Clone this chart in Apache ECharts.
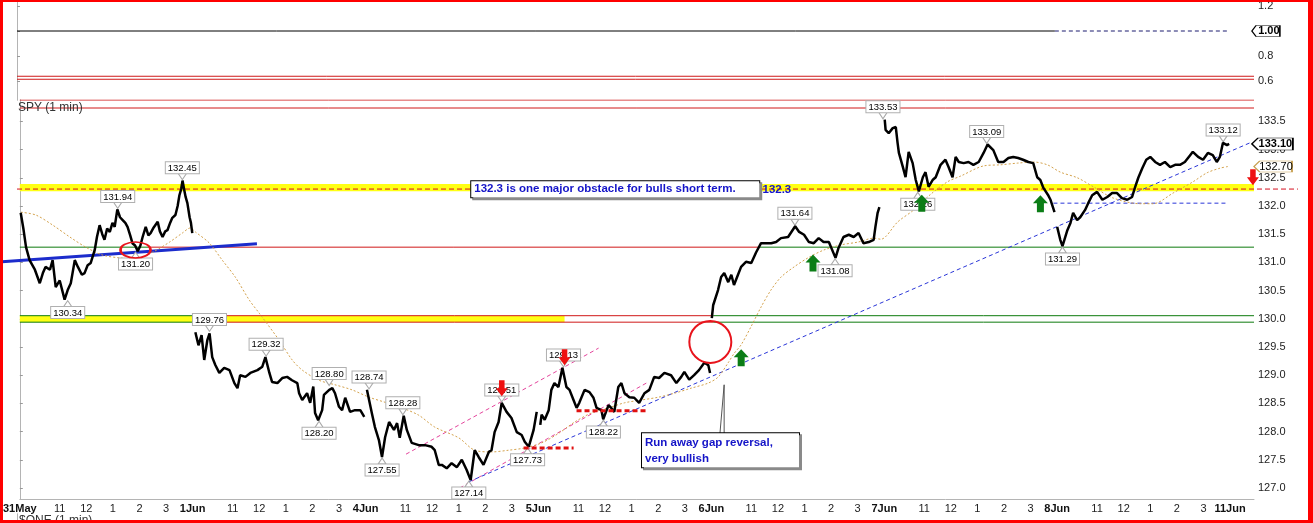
<!DOCTYPE html>
<html><head><meta charset="utf-8">
<script src="https://cdn.jsdelivr.net/npm/echarts@6/dist/echarts.min.js"></script>
<style>
html,body{margin:0;padding:0;background:#fff;overflow:hidden;}
#c{position:absolute;left:0;top:0;width:1313px;height:523px;}
#frame{position:absolute;left:0;top:0;width:1313px;height:523px;box-sizing:border-box;border-style:solid;border-color:#f00;border-width:2px 5px 3px 3px;pointer-events:none;}
</style></head><body>
<div id="c"></div><div id="frame"></div>
<script>
// ---------- DATA ----------
const SESSION = 6.5; // trading hours per day (9:30-16:00)
const dayLabels = ['31May','1Jun','4Jun','5Jun','6Jun','7Jun','8Jun','11Jun'];
const hourLabels = ['11','12','1','2','3'];
const hourOffsets = [1.5,2.5,3.5,4.5,5.5];
const priceTicks = [127,127.5,128,128.5,129,129.5,130,130.5,131,131.5,132,132.5,133,133.5];
const upperTicks = [0.6,0.8,1.2];

// SPY 1-min price readings: [minute of session, price]
const may31 = [[2,131.88],[8,131.6],[14,131.27],[22,131.04],[34,130.87],[45,130.63],[52,130.81],[58,130.92],[68,130.87],[74,131.04],[81,130.56],[90,130.68],[101,130.34],[108,130.51],[115,130.63],[124,131.04],[131,130.92],[140,130.78],[146,130.81],[153,130.95],[160,130.99],[169,131.22],[174,131.45],[180,131.66],[186,131.5],[191,131.40],[197,131.60],[203,131.54],[209,131.70],[214,131.63],[220,131.94],[226,131.80],[232,131.75],[238,131.70],[243,131.63],[249,131.48],[254,131.34],[260,131.30],[266,131.20],[272,131.30],[277,131.45],[284,131.63],[290,131.48],[295,131.52],[302,131.62],[311,131.72],[316,131.55],[322,131.45],[328,131.55],[333,131.57],[339,131.70],[344,131.79],[351,131.84],[356,132.00],[360,132.19],[364,132.30],[367,132.45],[371,132.28],[374,132.16],[378,132.05],[383,131.80],[386,131.70],[389,131.52]];
const jun1 = [[6,129.76],[13,129.53],[20,129.71],[26,129.27],[33,129.62],[38,129.74],[44,129.32],[51,129.18],[60,129.04],[71,129.13],[83,129.09],[94,128.86],[101,128.77],[107,129.00],[119,128.97],[130,129.04],[146,129.09],[157,129.15],[164,129.32],[173,129.04],[179,128.88],[191,128.86],[202,128.95],[213,128.97],[224,128.91],[236,128.86],[240,128.68],[247,128.56],[258,128.68],[265,128.51],[272,128.80],[276,128.33],[283,128.20],[292,128.38],[296,128.65],[308,128.74],[315,128.77],[321,128.68],[330,128.44],[337,128.38],[344,128.60],[355,128.35],[366,128.38],[378,128.38],[387,128.26]];
const jun4 = [[3,128.74],[14,128.33],[21,128.08],[30,127.85],[37,127.55],[44,127.90],[53,128.17],[64,128.03],[71,128.15],[77,127.89],[86,128.28],[93,128.03],[104,127.80],[120,127.76],[134,127.76],[149,127.73],[156,127.67],[165,127.41],[172,127.41],[183,127.35],[194,127.44],[206,127.37],[217,127.50],[228,127.32],[237,127.14],[246,127.67],[255,127.55],[266,127.41],[278,127.64],[284,127.67],[291,127.99],[300,128.17],[307,128.51],[318,128.35],[329,128.24],[341,127.99],[352,127.94],[359,127.82],[368,127.73],[379,128.03],[386,128.35]];
const jun5 = [[4,128.12],[7,128.30],[14,128.21],[23,128.38],[29,128.74],[36,128.86],[45,128.79],[54,129.13],[63,128.79],[70,128.74],[79,128.56],[86,128.42],[92,128.51],[104,128.74],[115,128.70],[124,128.60],[131,128.42],[142,128.38],[146,128.22],[158,128.47],[164,128.42],[171,128.35],[180,128.79],[187,128.86],[194,128.68],[205,128.61],[216,128.60],[227,128.51],[239,128.68],[250,128.74],[261,128.97],[272,128.95],[284,129.04],[299,129.00],[311,128.86],[322,128.97],[329,129.06],[340,128.92],[351,129.00],[362,129.09],[374,129.22],[383,129.18],[387,129.04]];
const jun6 = [[1,130.01],[4,130.24],[15,130.51],[22,130.74],[29,130.81],[38,130.65],[45,130.78],[51,130.60],[60,130.78],[67,130.92],[78,131.01],[90,130.99],[101,131.18],[112,131.34],[123,131.34],[135,131.34],[146,131.36],[157,131.43],[173,131.45],[189,131.64],[198,131.54],[209,131.49],[220,131.36],[231,131.34],[242,131.43],[253,131.36],[265,131.36],[280,131.08],[287,131.26],[298,131.45],[310,131.49],[321,131.45],[332,131.52],[343,131.34],[355,131.36],[366,131.40],[370,131.63],[375,131.88],[379,131.98]];
const jun7 = [[1,133.53],[3,133.35],[10,133.29],[19,133.38],[26,133.40],[30,133.12],[33,132.94],[42,132.69],[48,132.51],[55,132.96],[64,132.76],[71,132.46],[78,132.26],[87,132.51],[93,132.60],[100,132.34],[109,132.46],[116,132.51],[127,132.73],[138,132.82],[145,132.69],[154,132.51],[161,132.87],[168,132.78],[179,132.76],[190,132.78],[201,132.73],[213,132.78],[224,132.94],[233,133.09],[246,132.99],[257,132.78],[269,132.78],[280,132.85],[291,132.87],[302,132.85],[313,132.82],[325,132.78],[336,132.76],[345,132.51],[352,132.46],[359,132.32],[369,132.20],[375,132.11],[384,131.89]];
const jun8 = [[0,131.63],[7,131.40],[12,131.29],[23,131.57],[30,131.70],[36,131.88],[45,131.75],[52,131.80],[63,131.93],[70,132.05],[79,132.19],[90,132.25],[102,132.11],[113,132.16],[124,132.23],[135,132.23],[146,132.14],[158,132.11],[169,132.16],[176,132.34],[183,132.50],[192,132.67],[201,132.82],[210,132.87],[221,132.78],[232,132.73],[243,132.78],[255,132.69],[266,132.73],[277,132.73],[288,132.78],[300,132.90],[306,132.96],[318,132.87],[329,132.82],[340,132.94],[351,132.90],[360,132.78],[367,132.87],[374,133.12],[383,133.08],[388,133.10]];
const priceDays = [may31, jun1, jun4, jun5, jun6, jun7, jun8];

// moving average (orange dotted): trading hours since 31May open, value
const maHours = [0.04,0.60,1.24,1.88,2.48,3.11,3.75,4.35,4.99,5.63,6.11,6.41,6.60,7.13,7.61,8.10,8.63,9.00,9.75,10.24,10.62,11.25,11.85,12.49,13.13,13.73,14.37,15.00,15.60,16.50,17.10,17.74,18.38,18.98,19.62,20.26,20.86,21.49,22.13,22.73,23.37,24.01,24.61,25.24,25.88,26.26,26.63,26.86,27.12,27.49,27.87,28.24,28.62,29.11,29.63,30.23,30.87,31.51,32.11,32.37,33.01,33.61,34.25,34.88,35.37,36.23,36.87,37.51,38.11,38.63,39.12,39.76,40.36,41.11,42.12,42.61,43.36,44.11,44.64,45.12,45.42];
const maValues = [131.89,131.84,131.66,131.45,131.27,131.13,131.08,131.06,131.18,131.36,131.52,131.61,131.54,131.34,131.04,130.74,130.33,130.10,129.62,129.27,129.09,128.91,128.83,128.74,128.61,128.52,128.42,128.29,128.08,127.89,127.67,127.64,127.67,127.71,127.80,127.97,128.17,128.33,128.42,128.51,128.56,128.61,128.68,128.77,128.86,128.97,129.22,129.39,129.54,129.86,130.21,130.51,130.74,130.92,131.08,131.22,131.31,131.36,131.43,131.41,131.72,131.93,132.21,132.43,132.53,132.71,132.73,132.76,132.78,132.73,132.60,132.50,132.34,132.14,132.04,132.04,132.23,132.43,132.59,132.67,132.70];

// swing high / low labels
const pivotValues = [132.45,131.94,131.20,130.34,129.76,129.32,128.80,128.20,128.74,127.55,128.28,127.14,128.51,127.73,129.13,128.22,131.64,131.08,133.53,132.26,133.09,131.29,133.12];
const pivotHours  = [6.11,3.68,4.35,1.80,7.13,9.26,11.63,11.25,13.13,13.62,14.40,16.88,18.12,19.09,20.44,21.94,29.14,30.65,32.45,33.76,36.35,39.20,45.24];
const pivotIsHigh = [1,1,0,0,1,1,1,0,1,0,1,0,1,0,1,0,1,0,1,0,1,0,1];

// levels and drawn studies (hours, price)
const resistance = 132.3, resBandLow = 132.26, resBandHigh = 132.39;
const supportLine = 131.27;
const gapLineHigh = 130.055, gapLineLow = 129.94;
const headerLines = [133.879, 133.737];
const oscLevels = [0.638, 0.614];
const oscValue = 1.00, lastPrice = 133.10, lastMA = 132.70;
const blueTrend = [[-0.563,131.01],[9.0,131.33]];
const pinkUpper = [[14.52,127.60],[21.76,129.48]];
const pinkLower = [[16.54,127.00],[23.63,128.88]];
const blueDashed = [[16.88,127.11],[46.25,133.12]];
const blueDashH = [[38.86,132.05],[45.42,132.05]];
const redDash1 = [[18.94,127.71],[20.82,127.71]];
const redDash2 = [[20.93,128.37],[23.56,128.37]];
const calloutPointer = [[26.26,127.63],[26.48,128.83],[26.48,127.63]];
const greenArrows = [[27.12,129.31],[29.82,130.99],[33.91,132.05],[38.37,132.04]];
const redArrows = [[18.12,128.77],[20.48,129.32],[46.36,132.51]];
const gapCircle = [25.96,129.59];
const smallEllipse = [4.35,131.22];
const noteMain = {text:'132.3 is one major obstacle for bulls short term.', at:[16.99,132.43]};
const noteLevel = {text:'132.3', at:[27.94,132.43]};
const noteGap = {text:'Run away gap reversal,\nvery bullish', at:[23.41,127.96]};

// ---------- BUILD ----------
const FONT = "'Liberation Sans', Arial, sans-serif";
const X_MAX = 46.4, Y_MIN = 126.805, Y_MAX = 133.879;
const priceData = [];
priceDays.forEach((day, d) => {
  day.forEach(p => priceData.push([d * SESSION + p[0] / 60, p[1]]));
  priceData.push([d * SESSION + SESSION - 0.01, '-']);
});
const maData = maHours.map((h, i) => [h, maValues[i]]);

const xLabelMap = {};
const xCustom = [];
dayLabels.forEach((lab, d) => {
  const base = d * SESSION;
  xCustom.push(base); xLabelMap[base.toFixed(2)] = '{b|' + lab + '}';
  if (d < dayLabels.length - 1) hourOffsets.forEach((o, i) => {
    xCustom.push(base + o); xLabelMap[(base + o).toFixed(2)] = hourLabels[i];
  });
});

function seg(data, color, width, type, g, z) {
  return {type:'line', xAxisIndex:g, yAxisIndex:g, data, symbol:'none', silent:true,
    lineStyle:{color, width, type}, z: z || 3, animation:false};
}
function hline(v, x0, x1, color, width, type, g, z) {
  return seg([[x0, v],[x1, v]], color, width, type, g, z);
}
const triDown = 'path://M0,0L8,0L4,6Z', triUp = 'path://M4,0L8,6L0,6Z';
const arrowUp = 'path://M7.5,0L15,8L11,8L11,17L4,17L4,8L0,8Z';
const arrowDown = 'path://M3.5,0L9.5,0L9.5,8L13,8L6.5,16L0,8L3.5,8Z';
const tagPath = 'path://M0,6L6,0L40,0L40,12L6,12Z';

const pivotPoints = pivotValues.map((v, i) => {
  const hi = pivotIsHigh[i] === 1;
  return {coord:[pivotHours[i], v], symbol: hi ? triDown : triUp, symbolSize:[8,6],
    symbolOffset:[0, hi ? -4 : 4],
    itemStyle:{color:'#fff', borderColor:'#a8a8a8', borderWidth:1},
    label:{show:true, position: hi ? 'top' : 'bottom', distance:0, formatter: v.toFixed(2),
      fontSize:9.5, fontFamily:FONT, color:'#000', backgroundColor:'#fff',
      borderColor:'#b0b0b0', borderWidth:1, padding:[1,2,0,2], lineHeight:10}};
});
const boxLabel = {fontFamily:FONT, fontWeight:'bold', fontSize:11.5, color:'#1414c8',
  backgroundColor:'#fff', borderColor:'#000', borderWidth:1,
  shadowColor:'#8a8a8a', shadowOffsetX:2, shadowOffsetY:2, shadowBlur:0};
const anchor = {symbol:'rect', symbolSize:1, itemStyle:{color:'rgba(0,0,0,0)'}};

const annotationPoints = [
  Object.assign({coord: noteMain.at, label:Object.assign({show:true, position:[0,0], formatter:noteMain.text,
    padding:[1,4,1,3], lineHeight:14, width:281}, boxLabel)}, anchor),
  Object.assign({coord: noteLevel.at, label:{show:true, position:[0,0], formatter:noteLevel.text,
    fontFamily:FONT, fontWeight:'bold', fontSize:11.5, color:'#1414c8', padding:[2,0,0,0], lineHeight:14}}, anchor),
  Object.assign({coord: noteGap.at, label:Object.assign({show:true, position:[0,0], formatter:noteGap.text,
    padding:[1,4,1,3], lineHeight:16, width:150}, boxLabel)}, anchor),
  {coord: gapCircle, symbol:'circle', symbolSize:42, itemStyle:{color:'rgba(0,0,0,0)', borderColor:'#e8141c', borderWidth:2}},
  {coord: smallEllipse, symbol:'circle', symbolSize:[30,16], itemStyle:{color:'rgba(0,0,0,0)', borderColor:'#e8141c', borderWidth:2}}
].concat(greenArrows.map(c => ({coord:c, symbol:arrowUp, symbolSize:[15,17], itemStyle:{color:'#0b7d16'}})))
 .concat(redArrows.map(c => ({coord:c, symbol:arrowDown, symbolSize:[12,16], itemStyle:{color:'#ee1111'}})))
 .concat([
  {coord:[46.32, lastPrice], symbol:tagPath, symbolSize:[41,12], symbolOffset:[20.5,0], symbolKeepAspect:false,
   itemStyle:{color:'#fff', borderColor:'#000', borderWidth:1},
   label:{show:true, position:'inside', offset:[3,0], formatter:lastPrice.toFixed(2), fontFamily:FONT, fontWeight:'bold', fontSize:11, color:'#000'}},
  {coord:[46.40, lastMA], symbol:tagPath, symbolSize:[38,11], symbolOffset:[19,0], symbolKeepAspect:false,
   itemStyle:{color:'#fff', borderColor:'#c8a050', borderWidth:1},
   label:{show:true, position:'inside', offset:[3,0], formatter:lastMA.toFixed(2), fontFamily:FONT, fontSize:11, color:'#000'}}
 ]);

const axisGray = '#b4b4b4';
const lineOnlyY = (g, pos) => ({gridIndex:g, type:'value', position:pos, min:0, max:1,
  axisLine:{show:true, lineStyle:{color:axisGray}}, axisLabel:{show:false}, axisTick:{show:false}, splitLine:{show:false}});

const option = {
  animation:false,
  backgroundColor:'#fff',
  title:[
    {text:'SPY (1 min)', left:18, top:102, padding:0, textStyle:{fontFamily:FONT, fontSize:12, fontWeight:'normal', color:'#333'}},
    {text:'$ONE (1 min)', left:19, top:515, padding:0, textStyle:{fontFamily:FONT, fontSize:12, fontWeight:'normal', color:'#333'}}
  ],
  grid:[
    {left:17, right:59, top:0, height:100},
    {left:17, right:59, top:100, bottom:24},
    {left:17, right:59, top:514, bottom:0},
    {left:0, right:0, top:100, bottom:24}
  ],
  xAxis:[
    {gridIndex:0, type:'value', min:0, max:X_MAX, show:false},
    {gridIndex:1, type:'value', min:0, max:X_MAX,
      axisLine:{show:true, lineStyle:{color:axisGray}}, axisTick:{show:false}, splitLine:{show:false},
      axisLabel:{customValues:xCustom, margin:4, color:'#222', fontFamily:FONT, fontSize:11,
        formatter: v => xLabelMap[v.toFixed(2)] || '', rich:{b:{fontWeight:'bold', fontFamily:FONT, fontSize:11, color:'#111'}}}},
    {gridIndex:2, type:'value', min:0, max:X_MAX, position:'top',
      axisLine:{show:true, lineStyle:{color:axisGray}}, axisTick:{show:false}, axisLabel:{show:false}, splitLine:{show:false}},
    {gridIndex:3, type:'value', min:-17 * X_MAX / 1237, max:1296 * X_MAX / 1237, show:false}
  ],
  yAxis:[
    {gridIndex:0, type:'value', position:'right', min:0.448, max:1.248,
      axisLine:{show:true, lineStyle:{color:axisGray}}, splitLine:{show:false},
      axisTick:{show:true, customValues:[0.6,0.8,1.0,1.2], length:3, lineStyle:{color:'#999'}},
      axisLabel:{customValues:upperTicks, margin:4, color:'#222', fontFamily:FONT, fontSize:11, formatter:v => v.toFixed(1)}},
    {gridIndex:1, type:'value', position:'right', min:Y_MIN, max:Y_MAX,
      axisLine:{show:true, lineStyle:{color:axisGray}}, splitLine:{show:false},
      axisTick:{show:true, customValues:priceTicks, length:3, lineStyle:{color:'#999'}},
      axisLabel:{customValues:priceTicks, margin:4, color:'#222', fontFamily:FONT, fontSize:11, formatter:v => v.toFixed(1)}},
    lineOnlyY(2,'right'),
    {gridIndex:3, type:'value', min:Y_MIN, max:Y_MAX, show:false},
    lineOnlyY(0,'left'), lineOnlyY(1,'left'), lineOnlyY(2,'left')
  ],
  series:[
    // yellow bands
    {type:'line', xAxisIndex:1, yAxisIndex:1, data:[], z:1, silent:true,
      markArea:{silent:true, z:1, itemStyle:{color:'#ffff14'}, data:[
        [{coord:[0, resBandLow]},{coord:[X_MAX, resBandHigh]}],
        [{coord:[0, gapLineLow]},{coord:[20.48, gapLineHigh]}]
      ]}},
    // upper panel lines
    hline(oscValue, 0, 38.93, '#000', 1, 'solid', 0),
    hline(oscValue, 38.93, 45.42, '#1a1a6e', 1, [4,3], 0),
    hline(oscLevels[0], 0, X_MAX, '#d01818', 1, 'solid', 0),
    hline(oscLevels[1], 0, X_MAX, '#d01818', 1, 'solid', 0),
    {type:'line', xAxisIndex:0, yAxisIndex:0, data:[], silent:true, z:6,
      markPoint:{silent:true, z:8, animation:false, data:[
        {coord:[46.32, oscValue], symbol:tagPath, symbolSize:[28,11], symbolOffset:[14,0], symbolKeepAspect:false,
         itemStyle:{color:'#fff', borderColor:'#000', borderWidth:1},
         label:{show:true, position:'inside', offset:[3,0], formatter:oscValue.toFixed(2), fontFamily:FONT, fontWeight:'bold', fontSize:11, color:'#000'}}
      ]}},
    // main panel horizontal lines
    hline(headerLines[0], 0, X_MAX, '#d01818', 1, 'solid', 1),
    hline(headerLines[1], 0, X_MAX, '#d01818', 1, 'solid', 1),
    hline(supportLine, 4.88, 27.76, '#d01818', 1, 'solid', 1),
    hline(supportLine, 0, 4.88, '#0d7a0d', 1, 'solid', 1),
    hline(supportLine, 27.76, X_MAX, '#0d7a0d', 1, 'solid', 1),
    hline(gapLineHigh, 0, 6.60, '#0d7a0d', 1, 'solid', 1),
    hline(gapLineHigh, 6.60, 26.07, '#d01818', 1, 'solid', 1),
    hline(gapLineHigh, 26.07, X_MAX, '#0d7a0d', 1, 'solid', 1),
    hline(gapLineLow, 0, 6.60, '#0d7a0d', 1, 'solid', 1),
    hline(gapLineLow, 6.60, 26.07, '#d01818', 1, 'solid', 1),
    hline(gapLineLow, 26.07, X_MAX, '#0d7a0d', 1, 'solid', 1),
    seg([[0, resistance],[48.05, resistance]], '#d41020', 1, [5,3], 3, 3),
    // studies
    seg(blueTrend, '#1c2ccc', 3, 'solid', 3, 4),
    seg(pinkUpper, '#e4449c', 1, [4,3], 1, 4),
    seg(pinkLower, '#e4449c', 1, [4,3], 1, 4),
    seg(blueDashed, '#2a36d8', 1, [4,3], 1, 4),
    seg(blueDashH, '#2a36d8', 1, [4,3], 1, 4),
    seg(redDash1, '#e01010', 3, [5,3], 1, 6),
    seg(redDash2, '#e01010', 3, [5,3], 1, 6),
    seg(calloutPointer, '#555', 1, 'solid', 1, 6),
    // moving average
    {type:'line', xAxisIndex:1, yAxisIndex:1, data:maData, symbol:'none', smooth:0.3, silent:true, z:4,
      lineStyle:{color:'#d4a24c', width:1, type:[2,2]}},
    // price
    {type:'line', xAxisIndex:1, yAxisIndex:1, data:priceData, symbol:'none', silent:true, z:5, connectNulls:false,
      lineStyle:{color:'#000', width:2.5},
      markPoint:{silent:true, z:5, animation:false, data:pivotPoints}},
    {type:'line', xAxisIndex:1, yAxisIndex:1, data:[], silent:true, z:9,
      markPoint:{silent:true, z:9, animation:false, data:annotationPoints}}
  ]
};
const chart = echarts.init(document.getElementById('c'), null, {renderer:'canvas'});
chart.setOption(option);
</script></body></html>
